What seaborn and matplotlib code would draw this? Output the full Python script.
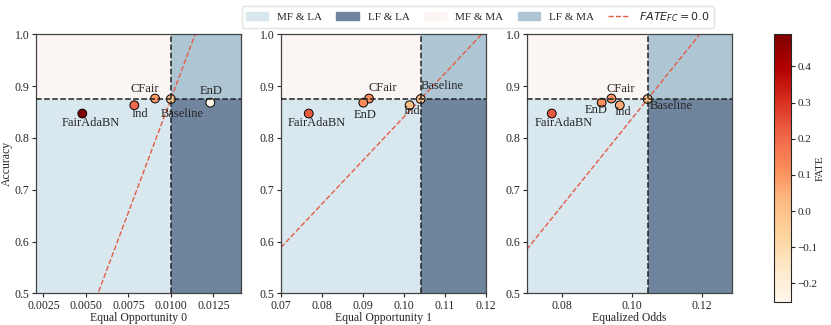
import numpy as np
import pandas as pd
import matplotlib.pyplot as plt
import matplotlib as mpl
from matplotlib.patches import Patch
from matplotlib.lines import Line2D
import seaborn as sns

sns.set_style("ticks")
plt.rcParams['font.family'] = 'serif'
plt.rcParams['font.serif'] = ['Liberation Serif', 'DejaVu Serif']
plt.rcParams['mathtext.fontset'] = 'dejavusans'

# -------------------------------
# Data
# -------------------------------
methods = ["FairAdaBN", "Ind", "CFair", "Baseline", "EnD"]

eo0_fair = [0.00479, 0.00785, 0.00907, 0.0100, 0.01232]
eo0_acc = [0.847, 0.863, 0.876, 0.875, 0.868]

eo1_fair = [0.0768, 0.1014, 0.0915, 0.1041, 0.0901]
eo1_acc = [0.847, 0.863, 0.876, 0.875, 0.868]

eodds_fair = [0.0770, 0.0965, 0.0941, 0.1045, 0.0913]
eodds_acc = [0.847, 0.863, 0.876, 0.875, 0.868]

panel_names = ["Equal Opportunity 0", "Equal Opportunity 1", "Equalized Odds"]
panel_fair = [eo0_fair, eo1_fair, eodds_fair]
panel_acc = [eo0_acc, eo1_acc, eodds_acc]
panel_xlim = [(0.00205, 0.01411), (0.07, 0.12), (0.0698, 0.1286)]
panel_xticks = [[0.0025, 0.0050, 0.0075, 0.0100, 0.0125],
                [0.07, 0.08, 0.09, 0.10, 0.11, 0.12],
                [0.08, 0.10, 0.12]]
panel_fmt = ["{:.4f}", "{:.2f}", "{:.2f}"]

# label offsets in pixels (dx, dy) per method per panel
label_offsets = [
    {"FairAdaBN": (8, -9), "Ind": (6, -9), "CFair": (-10, 10), "Baseline": (11, -15), "EnD": (1, 12)},
    {"FairAdaBN": (8, -9), "Ind": (2, -6), "CFair": (14, 11), "Baseline": (21, 13), "EnD": (2, -12)},
    {"FairAdaBN": (12, -9), "Ind": (3, -7), "CFair": (9, 10), "Baseline": (24, -7), "EnD": (-6, -7)},
]

c_mfla = "#d9e7ef"
c_lfla = "#6f849d"
c_mfma = "#fbf6f3"
c_lfma = "#aec6d4"
red_line = "#e45c44"

# -------------------------------
# FATE for each point
# -------------------------------
frames = []
for name, fair, acc in zip(panel_names, panel_fair, panel_acc):
    d = pd.DataFrame({"method": methods, "fair": fair, "acc": acc})
    base = d[d.method == "Baseline"].iloc[0]
    d["FATE"] = (d.acc - base.acc) / base.acc - (d.fair - base.fair) / base.fair
    d["panel"] = name
    frames.append(d)
df = pd.concat(frames)

vmin, vmax = df.FATE.min() - 0.012, df.FATE.max()
norm = mpl.colors.Normalize(vmin=vmin, vmax=vmax)
cmap = plt.get_cmap("OrRd")

fig = plt.figure(figsize=(8.31, 3.25), dpi=100)
ax_w, ax_h = 0.2467, 0.797
lefts = [0.043, 0.338, 0.6338]
fs = 8.5

for i, name in enumerate(panel_names):
    ax = fig.add_axes([lefts[i], 0.0975, ax_w, ax_h])
    d = df[df.panel == name]
    base = d[d.method == "Baseline"].iloc[0]
    xlo, xhi = panel_xlim[i]
    ylo, yhi = 0.5, 1.0

    # quadrant backgrounds
    ax.fill_between([xlo, base.fair], ylo, base.acc, color=c_mfla, lw=0, zorder=0)
    ax.fill_between([base.fair, xhi], ylo, base.acc, color=c_lfla, lw=0, zorder=0)
    ax.fill_between([xlo, base.fair], base.acc, yhi, color=c_mfma, lw=0, zorder=0)
    ax.fill_between([base.fair, xhi], base.acc, yhi, color=c_lfma, lw=0, zorder=0)

    sns.scatterplot(data=d, x="fair", y="acc", hue="FATE", palette=cmap, hue_norm=norm,
                    s=40, edgecolor="black", linewidth=0.7, legend=False, ax=ax, zorder=3)

    # FATE_FC = 0 line: acc / acc_b = fair / fair_b
    xs = np.array([xlo, xhi])
    ax.plot(xs, base.acc * xs / base.fair, ls="--", color=red_line, lw=1.0, zorder=2)

    ax.axvline(base.fair, ls="--", color="#222222", lw=1.1, zorder=4)
    ax.axhline(base.acc, ls="--", color="#222222", lw=1.1, zorder=4)

    for _, r in d.iterrows():
        dx, dy = label_offsets[i][r.method]
        ax.annotate(r.method, (r.fair, r.acc), xytext=(dx, dy), textcoords="offset pixels",
                    ha="center", va="center", fontsize=9, zorder=5)

    ax.set_xlim(xlo, xhi)
    ax.set_ylim(ylo, yhi)
    ax.set_xticks(panel_xticks[i])
    ax.set_xticklabels([panel_fmt[i].format(t) for t in panel_xticks[i]])
    ax.set_yticks([0.5, 0.6, 0.7, 0.8, 0.9, 1.0])
    ax.tick_params(labelsize=fs, length=3, width=0.8, pad=1.5)
    ax.set_xlabel(name, fontsize=fs, labelpad=0.5)
    ax.set_ylabel("Accuracy" if i == 0 else "", fontsize=fs, labelpad=1)
    for sp in ax.spines.values():
        sp.set_color("#444444")
        sp.set_linewidth(0.9)

# colorbar
cax = fig.add_axes([0.932, 0.07, 0.020, 0.825])
sm = mpl.cm.ScalarMappable(norm=norm, cmap=cmap)
cb = fig.colorbar(sm, cax=cax)
cb.set_label("FATE", fontsize=8, labelpad=-1)
cb.set_ticks([-0.2, -0.1, 0.0, 0.1, 0.2, 0.3, 0.4])
cb.ax.tick_params(labelsize=8, length=3, pad=1.5)
cb.outline.set_linewidth(0.8)

handles = [Patch(color=c_mfla, label="MF & LA"),
           Patch(color=c_lfla, label="LF & LA"),
           Patch(color=c_mfma, label="MF & MA"),
           Patch(color=c_lfma, label="LF & MA"),
           Line2D([0], [0], ls="--", color=red_line, lw=1.0, label=r"$FATE_{FC} = 0.0$")]
fig.legend(handles=handles, loc="upper center", bbox_to_anchor=(0.575, 0.998), ncol=5,
           fontsize=8, frameon=True, handlelength=2.0, columnspacing=1.3, borderpad=0.35,
           fancybox=True, edgecolor="#dddddd")

plt.savefig("out.png", dpi=100)
